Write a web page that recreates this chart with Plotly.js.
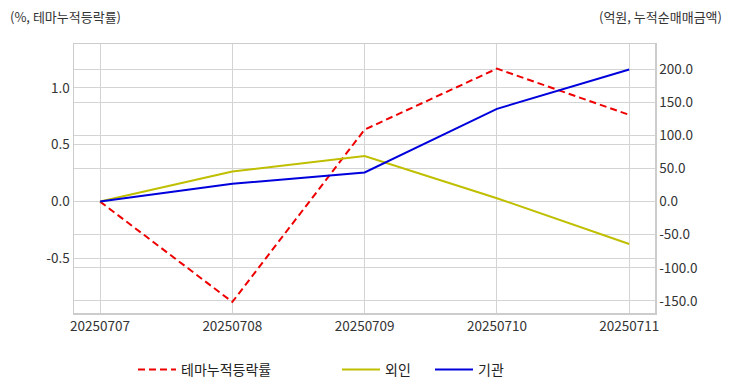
<!DOCTYPE html>
<html>
<head>
<meta charset="utf-8">
<script src="https://cdn.plot.ly/plotly-3.0.1.min.js"></script>
<style>html,body{margin:0;padding:0;background:#fff}</style>
</head>
<body>
<div id="chart" style="width:732px;height:392px"></div>
<script>
const dates = ["20250707", "20250708", "20250709", "20250710", "20250711"];
const themeReturn = [0.0, -0.883, 0.633, 1.169, 0.763];
const foreignNet = [0.0, 45.5, 68.8, 5.1, -64.0];
const instNet = [0.0, 26.8, 44.0, 140.0, 199.5];
const leftTicks = [-0.5, 0.0, 0.5, 1.0];
const rightTicks = [-150, -100, -50, 0, 50, 100, 150, 200];

const FONT = "Noto Sans CJK KR, Noto Sans, sans-serif";
const GRID = "#d4d4d4";
const TICKFONT = {family: FONT, size: 13.5, color: "#333"};

const traces = [
  {x: dates, y: themeReturn, name: "테마누적등락률", type: "scatter", mode: "lines",
   line: {color: "#ee0000", width: 2, dash: "7px,4px"}, yaxis: "y", legend: "legend"},
  {x: dates, y: foreignNet, name: "외인", type: "scatter", mode: "lines",
   line: {color: "#bfbf00", width: 2}, yaxis: "y2", legend: "legend2"},
  {x: dates, y: instNet, name: "기관", type: "scatter", mode: "lines",
   line: {color: "#0000dd", width: 2}, yaxis: "y2", legend: "legend3"}
];

const legendBase = {orientation: "h", yanchor: "middle", y: (313 - 370) / 269, xanchor: "left",
  itemwidth: 38,
  font: {family: FONT, size: 14, color: "#222"}, bgcolor: "rgba(0,0,0,0)"};

const layout = {
  width: 732, height: 392,
  margin: {l: 74, r: 77, t: 44, b: 79, autoexpand: false},
  paper_bgcolor: "#fff", plot_bgcolor: "#fff",
  font: {family: FONT, size: 13, color: "#333"},
  showlegend: true,
  xaxis: {type: "category", range: [-0.197, 4.195], showgrid: true, gridcolor: GRID, gridwidth: 1,
    showline: true, linecolor: "#cccccc", linewidth: 1.5, mirror: true, ticks: "",
    tickfont: TICKFONT, zeroline: false, automargin: false},
  yaxis: {range: [-0.98, 1.386], tickvals: leftTicks, ticktext: leftTicks.map(v => v.toFixed(1)),
    showgrid: true, gridcolor: GRID, gridwidth: 1, zeroline: false,
    showline: true, linecolor: "#cccccc", linewidth: 1.5, ticks: "",
    tickfont: TICKFONT, automargin: false},
  yaxis2: {overlaying: "y", side: "right", range: [-168.2, 237.9], tickvals: rightTicks,
    ticktext: rightTicks.map(v => v.toFixed(1)), showgrid: true, gridcolor: GRID, gridwidth: 1,
    zeroline: false, showline: true, linecolor: "#cccccc", linewidth: 1.5, ticks: "",
    tickfont: TICKFONT, automargin: false},
  legend: Object.assign({}, legendBase, {x: (133 - 74) / 581}),
  legend2: Object.assign({}, legendBase, {x: (337 - 74) / 581}),
  legend3: Object.assign({}, legendBase, {x: (430 - 74) / 581}),
  annotations: [
    {xref: "paper", yref: "paper", x: (8 - 74) / 581, y: (313 - 16) / 269, xanchor: "left", yanchor: "middle",
     text: "(%, 테마누적등락률)", showarrow: false, font: {family: FONT, size: 13, color: "#333"}},
    {xref: "paper", yref: "paper", x: (724 - 74) / 581, y: (313 - 16) / 269, xanchor: "right", yanchor: "middle",
     text: "(억원, 누적순매매금액)", showarrow: false, font: {family: FONT, size: 13, color: "#333"}}
  ]
};

Plotly.newPlot("chart", traces, layout, {displayModeBar: false, staticPlot: true});
</script>
</body>
</html>
